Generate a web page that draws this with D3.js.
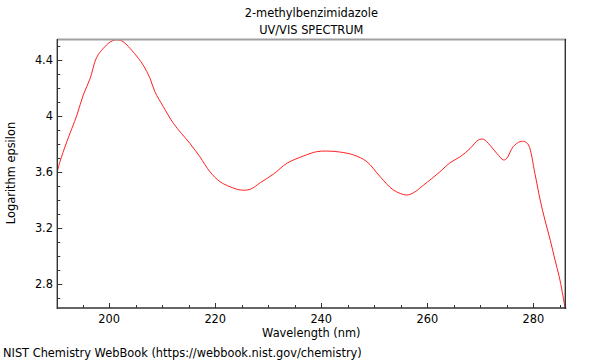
<!DOCTYPE html>
<html><head><meta charset="utf-8">
<script src="https://cdn.jsdelivr.net/npm/d3@7"></script>
<style>body{margin:0;background:#fff;}svg{display:block;font-family:"DejaVu Sans",sans-serif;}</style>
</head><body><svg id="c" width="600" height="360"></svg>
<script>
const wavelength = [190.2,190.7,192.0,193.9,195.1,196.4,197.6,198.9,200.1,201.1,202.4,203.9,205.5,206.4,207.7,208.6,210.2,212.1,215.2,217.1,219.0,220.9,222.8,224.7,226.6,228.5,231.0,233.5,236.6,239.1,241.0,243.5,246.1,248.6,251.1,253.6,256.1,257.4,259.3,262.4,264.3,266.2,268.1,269.6,270.6,271.8,273.1,274.4,275.0,276.2,277.5,278.4,279.1,280.3,281.3,282.2,283.2,284.1,284.9,285.4,286.0];
const logEpsilon = [3.604,3.676,3.819,4.009,4.152,4.271,4.419,4.486,4.529,4.545,4.538,4.486,4.414,4.366,4.271,4.176,4.069,3.950,3.807,3.711,3.604,3.533,3.497,3.474,3.479,3.526,3.588,3.664,3.716,3.747,3.752,3.745,3.724,3.676,3.569,3.474,3.438,3.454,3.509,3.604,3.669,3.711,3.771,3.830,3.836,3.795,3.736,3.688,3.700,3.783,3.819,3.819,3.795,3.593,3.402,3.259,3.116,2.974,2.854,2.759,2.631];
const xTicks = [200,220,240,260,280];
const yTicks = [2.8,3.2,3.6,4,4.4];
const titleLines = ["2-methylbenzimidazole","UV/VIS SPECTRUM"];
const xLabel = "Wavelength (nm)";
const yLabel = "Logarithm epsilon";
const footer = "NIST Chemistry WebBook (https://webbook.nist.gov/chemistry)";

const L=57.3,R=565.3,T=40,B=308;
const svg=d3.select("#c");
const x=d3.scaleLinear().domain([190.2,286.04]).range([L,R]);
const y=d3.scaleLinear().domain([2.631,4.545]).range([B,T]);

// curve
const data=wavelength.map((w,i)=>[w,logEpsilon[i]]);
svg.append("path").datum(data)
  .attr("fill","none").attr("stroke","#ff2020").attr("stroke-width",1)
  .attr("d",d3.line().x(d=>x(d[0])).y(d=>y(d[1])).curve(d3.curveCatmullRom.alpha(0.5)));

// minor ticks
const xMinor=d3.range(195,286,5).filter(v=>!xTicks.includes(v));
const yMinor=d3.range(27,46).map(v=>v/10).filter(v=>!yTicks.some(t=>Math.abs(t-v)<1e-6));
const g=svg.append("g").attr("stroke","#333").attr("stroke-width",1);
xMinor.forEach(v=>g.append("line").attr("x1",Math.round(x(v))+0.5).attr("x2",Math.round(x(v))+0.5).attr("y1",B).attr("y2",B-3));
xTicks.forEach(v=>g.append("line").attr("x1",Math.round(x(v))+0.5).attr("x2",Math.round(x(v))+0.5).attr("y1",B).attr("y2",B-5));
yMinor.forEach(v=>g.append("line").attr("y1",Math.round(y(v))+0.5).attr("y2",Math.round(y(v))+0.5).attr("x1",L).attr("x2",L+3));
yTicks.forEach(v=>g.append("line").attr("y1",Math.round(y(v))+0.5).attr("y2",Math.round(y(v))+0.5).attr("x1",L).attr("x2",L+5));

// frame
svg.append("line").attr("x1",L).attr("x2",R+1).attr("y1",T-0.5).attr("y2",T-0.5).attr("stroke","#a0a0a0").attr("stroke-width",2);
svg.append("line").attr("x1",L).attr("x2",L).attr("y1",T-1).attr("y2",B+1).attr("stroke","#333").attr("stroke-width",1.4);
svg.append("line").attr("x1",L).attr("x2",R+1).attr("y1",B).attr("y2",B).attr("stroke","#333").attr("stroke-width",1.4);
svg.append("line").attr("x1",R).attr("x2",R).attr("y1",T-1).attr("y2",B+1).attr("stroke","#333").attr("stroke-width",1.4);

// labels
const txt=svg.append("g").attr("font-size",11.4).attr("fill","#000");
xTicks.forEach(v=>txt.append("text").attr("x",x(v)).attr("y",322.5).attr("text-anchor","middle").text(v));
yTicks.forEach(v=>txt.append("text").attr("x",53).attr("y",y(v)+4).attr("text-anchor","end").text(v));
titleLines.forEach((s,i)=>txt.append("text").attr("x",(L+R)/2).attr("y",17+i*17).attr("text-anchor","middle").text(s));
txt.append("text").attr("x",(L+R)/2).attr("y",336.5).attr("text-anchor","middle").text(xLabel);
txt.append("text").attr("transform","translate(14.5,173) rotate(-90)").attr("text-anchor","middle").text(yLabel);
txt.append("text").attr("x",3).attr("y",356.5).text(footer);
</script></body></html>
